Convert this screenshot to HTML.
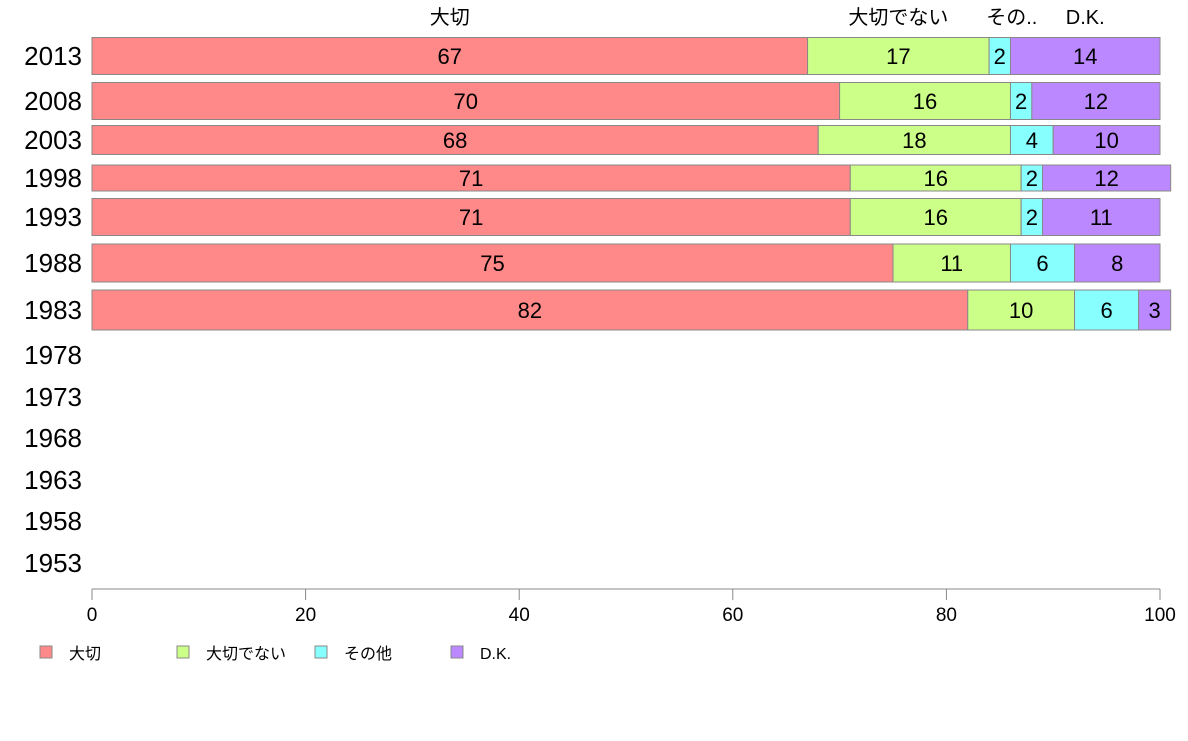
<!DOCTYPE html>
<html><head><meta charset="utf-8"><style>
body{margin:0;background:#fff;}
svg text{font-family:"Liberation Sans","Noto Sans CJK JP",sans-serif;}
</style></head><body>
<svg id="chart" width="1188" height="736" xmlns="http://www.w3.org/2000/svg"></svg>
<script>
const years=["2013","2008","2003","1998","1993","1988","1983","1978","1973","1968","1963","1958","1953"];
const series=["大切","大切でない","その他","D.K."];
const colors=["#ff8888","#ccff88","#88ffff","#bb88ff"];
const v2013=[67,17,2,14];
const v2008=[70,16,2,12];
const v2003=[68,18,4,10];
const v1998=[71,16,2,12];
const v1993=[71,16,2,11];
const v1988=[75,11,6,8];
const v1983=[82,10,6,3];
const values=[v2013,v2008,v2003,v1998,v1993,v1988,v1983];
const ticks=[0,20,40,60,80,100];
const topLabels=["大切","大切でない","その..","D.K."];
// layout (not data)
const rowCenter=[56,101,140,178,217,263,310,355,397,438,480,521,563];
const rowHalf=[18.5,18.5,14.5,13,18.5,19,20];
const svg=document.getElementById('chart');
const NS="http://www.w3.org/2000/svg";
const x=v=>92+v*10.68;
function mk(t,a,txt){const e=document.createElementNS(NS,t);for(const k in a)e.setAttribute(k,a[k]);if(txt!==undefined)e.textContent=txt;svg.appendChild(e);return e;}
years.forEach((y,i)=>{
 const e=mk('text',{x:82,y:rowCenter[i]+9,'text-anchor':'end','font-size':26,fill:'#000'},y);
 
 
});
values.forEach((row,i)=>{
 let c=0;
 row.forEach((v,j)=>{
  const r=mk('rect',{x:x(c),y:rowCenter[i]-rowHalf[i],width:x(c+v)-x(c),height:rowHalf[i]*2,fill:colors[j],stroke:'#888','stroke-width':1});
  
  
  const t=mk('text',{x:(x(c)+x(c+v))/2,y:rowCenter[i]+8,'text-anchor':'middle','font-size':22,fill:'#000'},String(v));
  
  
  if(i===0){
   const tl=mk('text',{x:(x(c)+x(c+v))/2+(j===2?12:0),y:24,'text-anchor':'middle','font-size':20,fill:'#000'},topLabels[j]);
   
   
  }
  c+=v;
 });
});
const ax=mk('line',{x1:x(0),x2:x(100),y1:589,y2:589,stroke:'#888','stroke-width':1});


ticks.forEach(t=>{
 const l=mk('line',{x1:x(t),x2:x(t),y1:589,y2:600,stroke:'#888','stroke-width':1});
 
 
 const tx=mk('text',{x:x(t),y:621,'text-anchor':'middle','font-size':19,fill:'#000'},String(t));
 
 
});
const legX=[40,177,315,451];
series.forEach((s,j)=>{
 const r=mk('rect',{x:legX[j],y:646,width:12,height:12,fill:colors[j],stroke:'#888','stroke-width':1});
 
 
 const t=mk('text',{x:legX[j]+29,y:659,'font-size':16,fill:'#000'},s);
 
 
});
</script>
</body></html>
